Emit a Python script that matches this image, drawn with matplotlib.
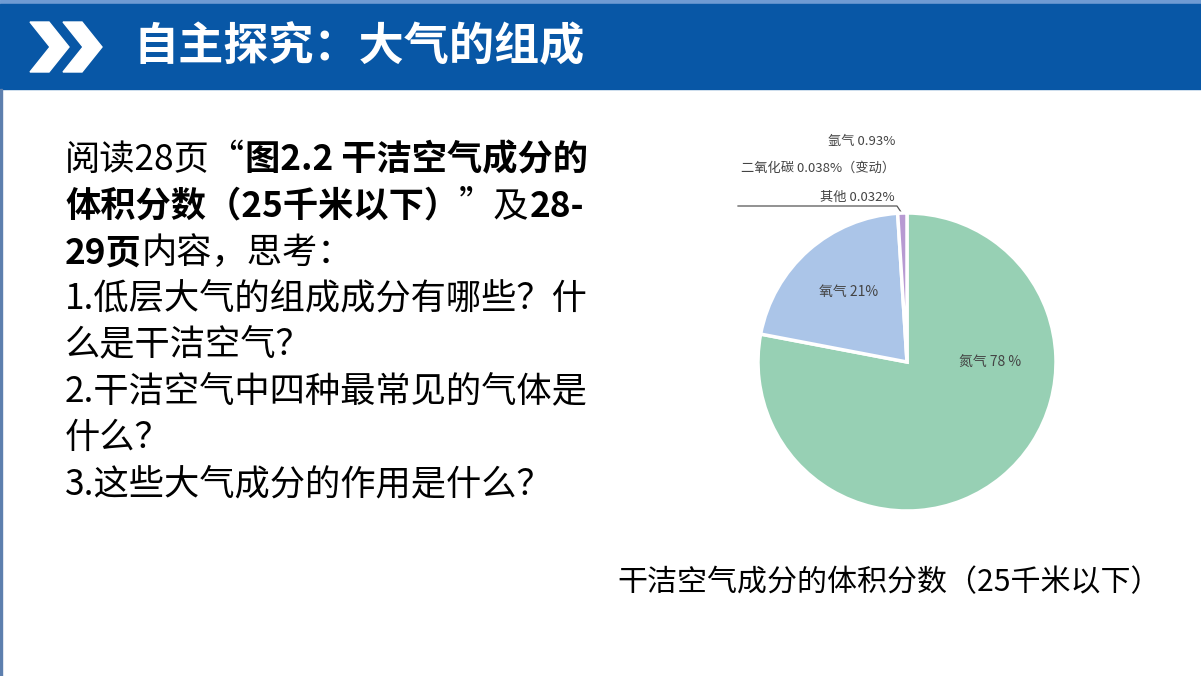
import numpy as np
import matplotlib
matplotlib.use("Agg")
from matplotlib import pyplot as plt
from matplotlib.patches import Polygon, Rectangle

plt.rcParams['font.family'] = ['Noto Sans CJK SC', 'DejaVu Sans']

# données
gaz = ['氮气', '氧气', '其他']
parts = [78, 21, 1]
couleurs = ['#97d0b4', '#abc5e8', '#b79ad2']
etiquettes_int = ['氮气 78 %', '氧气 21%']
etiquettes_ext = ['氩气 0.93%', '二氧化碳 0.038%（变动）', '其他 0.032%']

titre = '自主探究：大气的组成'
legende = '干洁空气成分的体积分数（25千米以下）'

# lignes du texte : (morceau, gras ?)
lignes = [
    [('阅读28页“', False), ('图2.2 干洁空气成分的', True)],
    [('体积分数（25千米以下）', True), ('”及', False), ('28-', True)],
    [('29页', True), ('内容，思考：', False)],
    [('1.低层大气的组成成分有哪些？什', False)],
    [('么是干洁空气？', False)],
    [('2.干洁空气中四种最常见的气体是', False)],
    [('什么？', False)],
    [('3.这些大气成分的作用是什么？', False)],
]

W, H = 1201, 676
fig = plt.figure(figsize=(W / 100, H / 100), dpi=100)
fig.patch.set_facecolor('white')

# fond en pixels
bg = fig.add_axes([0, 0, 1, 1])
bg.set_xlim(0, W)
bg.set_ylim(H, 0)
bg.axis('off')

bg.add_patch(Rectangle((0, 0), W, 4, color='#6f9bd3'))
bg.add_patch(Rectangle((0, 4), W, 85, color='#0857a6'))
bg.add_patch(Rectangle((0, 89), 2, H - 89, color='#5d7fae'))

# chevrons
for dx in [0, 33]:
    pts = np.array([(30, 22), (49, 22), (69, 47), (49, 72), (30, 72), (50, 47)], float)
    pts[:, 0] += dx
    bg.add_patch(Polygon(pts, closed=True, color='white'))

bg.text(133, 47, titre, color='white', fontsize=32.5, fontweight='bold',
        va='center', ha='left')

# texte à gauche
fig.canvas.draw()
rend = fig.canvas.get_renderer()
y = 160
for ligne in lignes:
    x = 65
    for morceau, gras in ligne:
        t = bg.text(x, y, morceau, fontsize=25.4, va='center', ha='left',
                    fontweight='bold' if gras else 'normal', color='black')
        bb = t.get_window_extent(renderer=rend)
        x += bb.width
    y += 46.4

bg.text(617, 583, legende, fontsize=21.6, va='center', ha='left', color='black')

# camembert
cx, cy, r = 907, 362, 149
ax = fig.add_axes([(cx - r) / W, (H - cy - r) / H, 2 * r / W, 2 * r / H])
ax.pie(parts, colors=couleurs, startangle=90, counterclock=False,
       wedgeprops=dict(edgecolor='white', linewidth=2.5))
ax.set_xlim(-1, 1)
ax.set_ylim(-1, 1)
ax.set_aspect('auto')
ax.axis('off')

ax.text(0.56, 0.0, etiquettes_int[0], fontsize=10, color='#444444',
        ha='center', va='center')
ax.text(-0.39, 0.47, etiquettes_int[1], fontsize=10, color='#444444',
        ha='center', va='center')

for (txt, yy) in zip(etiquettes_ext, [142, 168, 197]):
    bg.text(895, yy, txt, fontsize=9.5, color='#444444', ha='right', va='center')
bg.plot([738, 897, 903], [206, 206, 215], color='#555555', lw=0.9)

fig.savefig('out.png', dpi=100)
